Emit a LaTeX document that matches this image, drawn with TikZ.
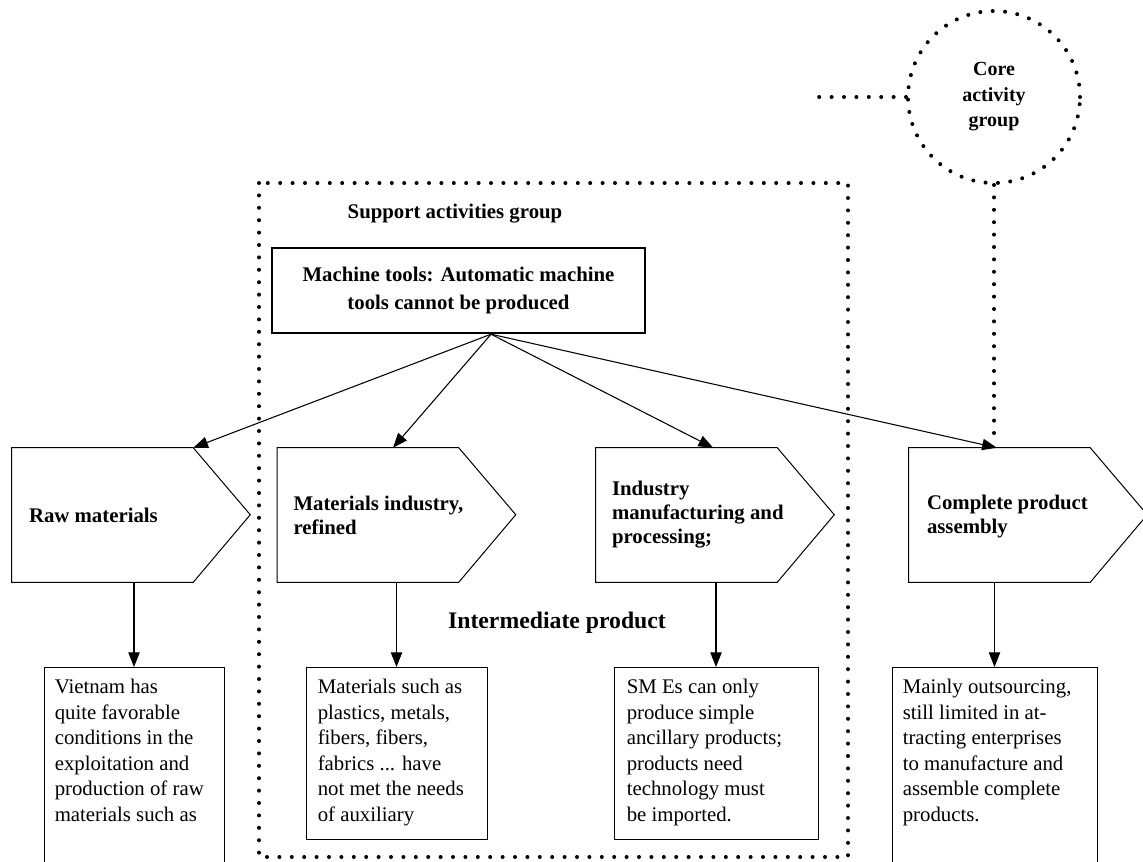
\documentclass[tikz,border=0pt]{standalone}
\usepackage{fontspec}
\setmainfont{Liberation Serif}
\usetikzlibrary{arrows.meta,positioning}

\tikzset{
  dots/.style={line width=3pt, line cap=round, dash pattern=on 0pt off 9.3pt},
  link/.style={line width=0.8pt, -{Triangle[length=11pt,width=8.5pt]}},
  stage/.style={minimum width=135.75pt, minimum height=100.5pt, inner sep=0pt},
  stageline/.style={line width=0.75pt},
  stagetext/.style={anchor=west, align=left, inner sep=0pt,
    font=\bfseries\fontsize{15.6}{18}\selectfont},
  infobox/.style={draw, line width=0.75pt, inner sep=0pt, anchor=north},
  infotext/.style={anchor=north west, align=left, inner sep=0pt,
    font=\fontsize{15.6}{19.1}\selectfont}
}

\begin{document}
\begin{tikzpicture}[x=0.75pt, y=-0.75pt]

    \useasboundingbox (0,0) rectangle (1143,861);

    % groups
    \draw[dots] (259,183) rectangle (848,857);
    \node[font=\bfseries\fontsize{15.6}{19}\selectfont] (support) at (455,214) {Support activities group};
    \node[draw, dots, circle, minimum size=129pt, inner sep=0pt, align=center,
          font=\bfseries\fontsize{15}{19.1}\selectfont] (core) at (994,97) {Core\\activity\\group};
    \coordinate (coreend) at (812,97);
    \draw[dots] (core.west) -- (coreend);

    % machine tools
    \node[draw, line width=1.8pt, minimum width=279.75pt, minimum height=63.75pt, align=center,
          font=\bfseries\fontsize{15.6}{21}\selectfont] (mt) at (458.5,290.5)
          {Machine tools: Automatic machine\\tools cannot be produced};
    \coordinate (fan) at ([xshift=24.4pt]mt.south);

    % stages
    \node[stage] (p1) at (102.5,515) {};
    \node[stage] (p2) at (368,515) {};
    \node[stage] (p3) at (686.5,515) {};
    \node[stage] (p4) at (999.5,515) {};

    \draw[stageline] (p1.north west) -- (p1.north east) -- ++(57,67) -- (p1.south east) -- (p1.south west) -- cycle;
    \draw[stageline] (p2.north west) -- (p2.north east) -- ++(57,67) -- (p2.south east) -- (p2.south west) -- cycle;
    \draw[stageline] (p3.north west) -- (p3.north east) -- ++(57,67) -- (p3.south east) -- (p3.south west) -- cycle;
    \draw[stageline] (p4.north west) -- (p4.north east) -- ++(57,67) -- (p4.south east) -- (p4.south west) -- cycle;

    \node[stagetext] (p1t) at ([xshift=12.75pt]p1.west) {Raw materials};
    \node[stagetext] (p2t) at ([xshift=12pt]p2.west) {Materials industry,\\refined};
    \node[stagetext] (p3t) at ([xshift=12pt]p3.west) {Industry\\manufacturing and\\processing;};
    \node[stagetext] (p4t) at ([xshift=13.5pt,yshift=-1pt]p4.west) {Complete product\\assembly};

    \node[font=\bfseries\fontsize{17.8}{21}\selectfont] (inter) at (557,623) {Intermediate product};

    % notes
    \node[infobox, minimum width=135pt, minimum height=157.5pt] (tb1) at (134,667) {};
    \node[infobox, minimum width=135.75pt, minimum height=129pt] (tb2) at (396.5,667) {};
    \node[infobox, minimum width=153pt, minimum height=129pt] (tb3) at (716,667) {};
    \node[infobox, minimum width=153.75pt, minimum height=157.5pt] (tb4) at (994.5,667) {};

    \node[infotext] (tb1t) at ([xshift=8.25pt,yshift=-9pt]tb1.north west)
      {Vietnam has\\quite favorable\\conditions in the\\exploitation and\\production of raw\\materials such as};
    \node[infotext] (tb2t) at ([xshift=9pt,yshift=-9pt]tb2.north west)
      {Materials such as\\plastics, metals,\\fibers, fibers,\\fabrics ... have\\not met the needs\\of auxiliary};
    \node[infotext] (tb3t) at ([xshift=9.75pt,yshift=-9pt]tb3.north west)
      {SM Es can only\\produce simple\\ancillary products;\\products need\\technology must\\be imported.};
    \node[infotext] (tb4t) at ([xshift=8.25pt,yshift=-9pt]tb4.north west)
      {Mainly outsourcing,\\still limited in at-\\tracting enterprises\\to manufacture and\\assemble complete\\products.};

    % connectors
    \draw[link] (fan) -- (p1.north east);
    \draw[link] (fan) -- ([xshift=18.75pt]p2.north);
    \draw[link] (fan) -- ([xshift=20pt]p3.north);
    \draw[link] (fan) -- ([xshift=-2pt]p4.north);
    \draw[dots] (core.south) -- ([yshift=10pt]core.south |- p4.north);

    \draw[link] (tb1.north |- p1.south) -- (tb1.north);
    \draw[link] (tb2.north |- p2.south) -- (tb2.north);
    \draw[link] (tb3.north |- p3.south) -- (tb3.north);
    \draw[link] (tb4.north |- p4.south) -- (tb4.north);

\end{tikzpicture}
\end{document}
